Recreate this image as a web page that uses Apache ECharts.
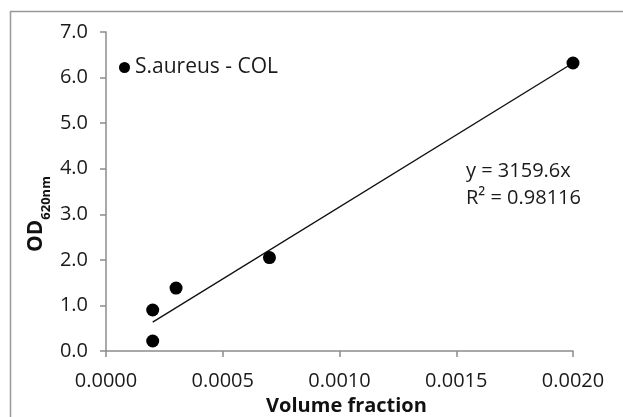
<!DOCTYPE html>
<html>
<head>
<meta charset="utf-8">
<script src="https://cdn.jsdelivr.net/npm/echarts@6/dist/echarts.min.js"></script>
<style>
  html, body { margin: 0; padding: 0; background: #fff; }
  #chart { width: 623px; height: 417px; }
</style>
</head>
<body>
<div id="chart"></div>
<script>
// measured points, S.aureus - COL
const volumeFraction = [0.0002, 0.0002, 0.0003, 0.0007, 0.0020];
const od620 = [0.22, 0.90, 1.38, 2.05, 6.32];
const seriesName = 'S.aureus - COL';

// trendline as printed on the chart
const slope = 3159.6;
const trendLabel = ['y = 3159.6x', 'R\u00b2 = 0.98116'];

const FONT = '"Open Sans", sans-serif';
const AXIS_GREY = '#8c8c8c';
const INK = '#1a1a1a';

const points = volumeFraction.map((x, i) => [x, od620[i]]);
const xLo = Math.min(...volumeFraction);
const xHi = Math.max(...volumeFraction);
const trend = [[xLo, slope * xLo], [xHi, slope * xHi]];

const chart = echarts.init(document.getElementById('chart'), null, { renderer: 'canvas' });

chart.setOption({
  animation: false,
  backgroundColor: '#fff',
  textStyle: { fontFamily: FONT },
  grid: { left: 106, right: 50, top: 32, bottom: 66, outerBoundsMode: 'none' },
  legend: {
    data: [{ name: seriesName, icon: 'circle' }],
    left: 114,
    top: 52,
    itemWidth: 11,
    itemHeight: 11,
    itemGap: 5,
    textStyle: { fontFamily: FONT, fontSize: 21, color: INK },
  },
  xAxis: {
    type: 'value',
    min: 0,
    max: 0.002,
    interval: 0.0005,
    name: 'Volume fraction',
    nameLocation: 'middle',
    nameGap: 45,
    nameTextStyle: { fontFamily: FONT, fontSize: 20, fontWeight: 'bold', color: '#111', padding: [0, 0, 0, 14] },
    axisLine: { lineStyle: { color: AXIS_GREY, width: 1.5 } },
    axisTick: { show: true, length: 6, lineStyle: { color: AXIS_GREY, width: 1.5 } },
    axisLabel: {
      margin: 20,
      fontSize: 20,
      color: INK,
      formatter: v => v.toFixed(4),
    },
    splitLine: { show: false },
  },
  yAxis: {
    type: 'value',
    min: 0,
    max: 7,
    interval: 1,
    axisLine: { show: true, lineStyle: { color: AXIS_GREY, width: 1.5 } },
    axisTick: { show: true, length: 6, lineStyle: { color: AXIS_GREY, width: 1.5 } },
    axisLabel: {
      margin: 18,
      fontSize: 20,
      color: INK,
      formatter: v => v.toFixed(1),
    },
    splitLine: { show: false },
  },
  series: [
    {
      name: seriesName,
      type: 'scatter',
      data: points,
      symbol: 'circle',
      symbolSize: 13,
      itemStyle: { color: '#000', opacity: 1 },
      z: 3,
    },
    {
      name: 'trend',
      type: 'line',
      data: trend,
      showSymbol: false,
      silent: true,
      lineStyle: { color: '#111', width: 1.4 },
      z: 2,
    },
  ],
  graphic: [
    {
      type: 'rect',
      shape: { x: 10.5, y: 11.5, width: 700, height: 500 },
      style: { fill: null, stroke: '#999', lineWidth: 1.5 },
      silent: true,
    },
    {
      // y axis title with subscript
      type: 'text',
      x: 36,
      y: 214,
      rotation: Math.PI / 2,
      style: {
        text: '{main|OD}{sub|620nm}',
        align: 'center',
        verticalAlign: 'middle',
        rich: {
          main: { fontFamily: FONT, fontSize: 21, fontWeight: 'bold', fill: '#111', verticalAlign: 'bottom' },
          sub: { fontFamily: FONT, fontSize: 13, fontWeight: 'bold', fill: '#111', verticalAlign: 'bottom', padding: [0, 0, -6, 0] },
        },
      },
    },
    {
      type: 'text',
      left: 466,
      top: 158,
      style: {
        text: trendLabel.join('\n'),
        fontFamily: FONT,
        fontSize: 20,
        lineHeight: 27,
        align: 'center',
        fill: INK,
      },
    },
  ],
});
</script>
</body>
</html>
